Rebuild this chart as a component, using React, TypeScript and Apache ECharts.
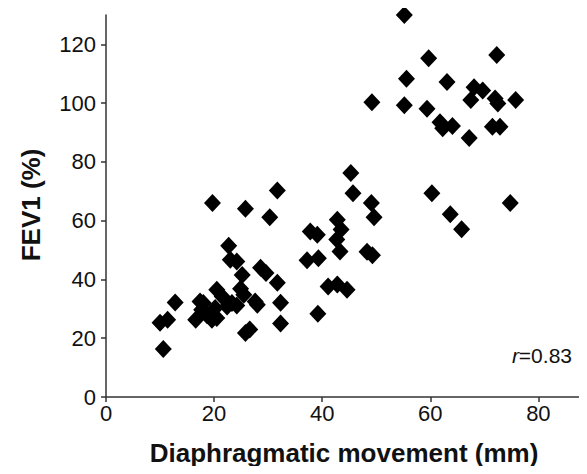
import React, { useEffect, useRef } from "react";
import * as echarts from "echarts";

const movementMm: number[] = [
  10.6, 10.0, 11.4, 12.8, 16.6, 17.4, 17.7, 18.7, 19.6, 20.5, 18.0, 20.2, 22.4,
  20.5, 21.5, 23.3, 24.2, 22.7, 23.0, 24.2, 24.9, 25.5, 25.2, 19.7, 25.8, 25.8,
  26.6, 27.6, 28.0, 28.6, 29.6, 31.7, 32.3, 32.3, 30.3, 31.7,
  37.2, 39.3, 37.8, 39.1, 39.2, 41.1, 42.8, 44.6, 42.8, 43.5, 42.7, 43.3, 45.3,
  45.7, 48.3, 49.3, 49.6, 49.1, 49.2,
  55.2, 59.7, 72.3, 55.6, 63.1, 68.1, 69.7, 67.5, 72.0, 72.5, 75.8, 55.2, 59.4,
  61.8, 62.3, 64.1, 67.2, 71.5, 72.9, 60.3, 63.7, 65.8, 74.8,
];

const fev1Pct: number[] = [
  16.3, 25.3, 26.3, 32.2, 26.3, 32.5, 29.7, 27.8, 26.3, 26.9, 32.0, 30.3, 30.8,
  36.5, 34.2, 32.0, 31.1, 51.5, 46.7, 46.1, 36.8, 34.8, 41.5, 66.0, 64.1, 21.8,
  23.0, 32.5, 31.4, 44.0, 42.2, 38.9, 32.1, 25.0, 61.2, 70.3,
  46.5, 47.2, 56.3, 55.2, 28.3, 37.6, 38.3, 36.5, 60.3, 57.0, 53.6, 49.5, 76.2,
  69.3, 49.4, 48.2, 61.2, 66.0, 100.3,
  130.0, 115.3, 116.4, 108.3, 107.2, 105.4, 104.3, 101.1, 101.6, 99.9, 101.1,
  99.3, 98.1, 93.5, 91.5, 92.2, 88.1, 92.0, 92.0, 69.3, 62.2, 57.1, 66.0,
];

const xTicks: number[] = [0, 20, 40, 60, 80];
const yTicks: number[] = [0, 20, 40, 60, 80, 100, 120];

const xTitle = "Diaphragmatic movement (mm)";
const yTitle = "FEV1 (%)";
const rValue = "0.83";

const FONT = "'Liberation Sans', Arial, sans-serif";

export default function App() {
  const ref = useRef<HTMLDivElement>(null);

  useEffect(() => {
    if (!ref.current) return;
    const chart = echarts.init(ref.current, undefined, { renderer: "svg" });
    const points = movementMm.map((x, i) => [x, fev1Pct[i]]);
    chart.setOption({
      animation: false,
      backgroundColor: "#ffffff",
      grid: { left: 106, top: 15, right: 0, bottom: 77, containLabel: false },
      xAxis: {
        type: "value",
        min: 0,
        max: 89,
        interval: 20,
        splitLine: { show: false },
        axisLine: { show: true, onZero: false, lineStyle: { color: "#333", width: 1.5 } },
        axisTick: { show: true, inside: false, length: 5, lineStyle: { color: "#333", width: 1.5 }, customValues: xTicks },
        axisLabel: {
          color: "#111",
          fontSize: 22,
          fontFamily: FONT,
          margin: 5,
          customValues: xTicks,
        },
      },
      yAxis: {
        type: "value",
        min: 0,
        max: 130,
        interval: 20,
        splitLine: { show: false },
        axisLine: { show: true, onZero: false, lineStyle: { color: "#333", width: 1.5 } },
        axisTick: { show: true, inside: false, length: 5, lineStyle: { color: "#333", width: 1.5 }, customValues: yTicks },
        axisLabel: {
          color: "#111",
          fontSize: 22,
          fontFamily: FONT,
          margin: 10,
          customValues: yTicks,
        },
      },
      series: [
        {
          type: "scatter",
          data: points,
          symbol: "diamond",
          symbolSize: [17, 18],
          itemStyle: { color: "#000000", opacity: 1 },
        },
      ],
      graphic: [
        {
          type: "text",
          x: 344,
          y: 453,
          style: {
            text: xTitle,
            font: `bold 26px ${FONT}`,
            fill: "#111",
            textAlign: "center",
            textVerticalAlign: "middle",
          },
        },
        {
          type: "text",
          x: 31,
          y: 205,
          rotation: Math.PI / 2,
          style: {
            text: yTitle,
            font: `bold 26px ${FONT}`,
            fill: "#111",
            textAlign: "center",
            textVerticalAlign: "middle",
          },
        },
        {
          type: "text",
          x: 572,
          y: 355,
          style: {
            text: `{i|r}{n|=${rValue}}`,
            textAlign: "right",
            textVerticalAlign: "middle",
            rich: {
              i: { font: `italic 21px ${FONT}`, fill: "#111" },
              n: { font: `21px ${FONT}`, fill: "#111" },
            },
          },
        },
      ],
    });
    return () => chart.dispose();
  }, []);

  return <div ref={ref} style={{ width: 587, height: 474, margin: -8 }} />;
}
